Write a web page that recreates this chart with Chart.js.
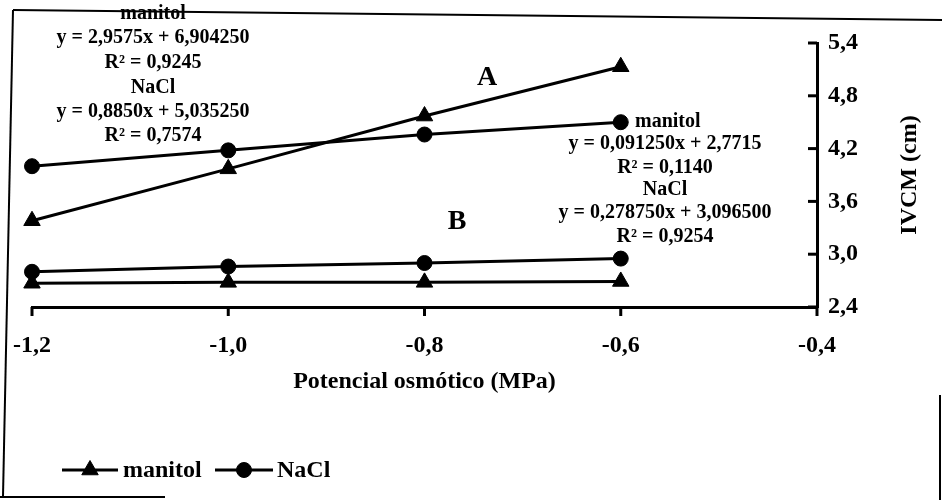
<!DOCTYPE html>
<html>
<head>
<meta charset="utf-8">
<script src="https://cdn.jsdelivr.net/npm/chart.js@4/dist/chart.umd.min.js"></script>
<style>
  html, body { margin: 0; padding: 0; background: #fff; }
  #wrap { width: 942px; height: 500px; }
</style>
</head>
<body>
<div id="wrap"><canvas id="ivcmChart" width="942" height="500"></canvas></div>
<script>
// osmotic potential (MPa)
const xValues = [-1.2, -1.0, -0.8, -0.6];
// IVCM (cm), curve A
const manitolA = [3.38, 3.97, 4.57, 5.13];
const naclA = [4.0, 4.18, 4.36, 4.5];
// IVCM (cm), curve B
const manitolB = [2.67, 2.68, 2.68, 2.69];
const naclB = [2.8, 2.86, 2.9, 2.95];

const xTicks = [-1.2, -1.0, -0.8, -0.6, -0.4];
const yTicks = [2.4, 3.0, 3.6, 4.2, 4.8, 5.4];

const notesA = ["manitol", "y = 2,9575x + 6,904250", "R\u00b2 = 0,9245", "NaCl", "y = 0,8850x + 5,035250", "R\u00b2 = 0,7574"];
const notesB = ["manitol", "y = 0,091250x + 2,7715", "R\u00b2 = 0,1140", "NaCl", "y = 0,278750x + 3,096500", "R\u00b2 = 0,9254"];

const serif = "'Liberation Serif', 'Times New Roman', serif";
const bold = size => "bold " + size + "px " + serif;
const fmt = v => Number(v).toFixed(1).replace(".", ",");
const toPoints = ys => xValues.map((x, i) => ({ x: x, y: ys[i] }));

function series(label, ys, style, radius) {
  return {
    label: label,
    data: toPoints(ys),
    showLine: true,
    borderColor: "#000",
    backgroundColor: "#000",
    borderWidth: 3,
    pointStyle: style,
    pointRadius: radius,
    pointBorderWidth: 1,
    clip: false
  };
}

function line(ctx, x1, y1, x2, y2) {
  ctx.beginPath();
  ctx.moveTo(x1, y1);
  ctx.lineTo(x2, y2);
  ctx.stroke();
}

// tick marks, texts, legend and the scanned frame
const decor = {
  id: "decor",
  afterDraw(chart) {
    const ctx = chart.ctx;
    const xs = chart.scales.x, ys = chart.scales.y;
    const area = chart.chartArea;
    ctx.save();
    ctx.strokeStyle = "#000";
    ctx.fillStyle = "#000";

    ctx.lineWidth = 3;
    xTicks.forEach(v => {
      const px = xs.getPixelForValue(v);
      line(ctx, px, area.bottom, px, area.bottom + 9);
    });
    yTicks.forEach(v => {
      const py = ys.getPixelForValue(v);
      line(ctx, area.right - 9, py, area.right, py);
    });

    // y title, reading bottom to top
    ctx.font = bold(24);
    ctx.textAlign = "center";
    ctx.textBaseline = "middle";
    ctx.save();
    ctx.translate(910, (area.top + area.bottom) / 2);
    ctx.rotate(-Math.PI / 2);
    ctx.fillText("IVCM (cm)", 0, 0);
    ctx.restore();

    ctx.font = bold(28);
    ctx.fillText("A", 487, 78);
    ctx.fillText("B", 457, 222);

    ctx.font = bold(20);
    const leftY = [14, 38, 63, 88, 112, 136];
    notesA.forEach((t, i) => ctx.fillText(t, 153, leftY[i]));
    const rightY = [122, 144, 168, 190, 213, 237];
    notesB.forEach((t, i) => {
      if (i === 0) {
        ctx.textAlign = "left";
        ctx.fillText(t, 635, rightY[i]);
        ctx.textAlign = "center";
      } else {
        ctx.fillText(t, 665, rightY[i]);
      }
    });

    // legend
    const ly = 470;
    const entries = [
      { ds: chart.data.datasets[0], x1: 62, x2: 118, text: 123 },
      { ds: chart.data.datasets[1], x1: 215, x2: 273, text: 277 }
    ];
    ctx.font = bold(24);
    ctx.textAlign = "left";
    entries.forEach(e => {
      ctx.lineWidth = 3;
      line(ctx, e.x1, ly, e.x2, ly);
      ctx.lineWidth = 1;
      Chart.helpers.drawPoint(ctx, { pointStyle: e.ds.pointStyle, radius: e.ds.pointRadius, rotation: 0, borderWidth: 1 }, (e.x1 + e.x2) / 2, ly);
      ctx.fillText(e.ds.label, e.text, ly + 1);
    });

    // frame of the scanned figure
    ctx.lineWidth = 2;
    line(ctx, 13, 10, 942, 20);
    line(ctx, 13, 10, 3, 496);
    line(ctx, 0, 497, 165, 497);
    line(ctx, 940, 395, 940, 500);
    ctx.restore();
  }
};

new Chart(document.getElementById("ivcmChart"), {
  type: "scatter",
  data: {
    datasets: [
      series("manitol", manitolA, "triangle", 9.5),
      series("NaCl", naclA, "circle", 7.5),
      series("manitol B", manitolB, "triangle", 9.5),
      series("NaCl B", naclB, "circle", 7.5)
    ]
  },
  options: {
    responsive: false,
    animation: false,
    layout: { padding: { left: 32, top: 43, right: 0, bottom: 0 } },
    plugins: {
      legend: { display: false },
      tooltip: { enabled: false }
    },
    scales: {
      x: {
        type: "linear",
        min: -1.2,
        max: -0.4,
        afterBuildTicks: s => { s.ticks = xTicks.map(v => ({ value: v })); },
        afterFit: s => { s.height = 193; s.paddingLeft = 0; s.paddingRight = 0; },
        grid: { display: false, drawTicks: false },
        border: { display: true, color: "#000", width: 3 },
        ticks: { color: "#000", padding: 24, maxRotation: 0, font: { family: serif, size: 24, weight: "bold" }, callback: fmt },
        title: {
          display: true,
          text: "Potencial osm\u00f3tico (MPa)",
          color: "#000",
          font: { family: serif, size: 24, weight: "bold" },
          padding: { top: 0, bottom: 104 }
        }
      },
      y: {
        position: "right",
        min: 2.4,
        max: 5.4,
        afterBuildTicks: s => { s.ticks = yTicks.map(v => ({ value: v })); },
        afterFit: s => { s.width = 125; },
        grid: { display: false, drawTicks: false },
        border: { display: true, color: "#000", width: 3 },
        ticks: { color: "#000", padding: 11, font: { family: serif, size: 24, weight: "bold" }, callback: fmt }
      }
    }
  },
  plugins: [decor]
});
</script>
</body>
</html>
